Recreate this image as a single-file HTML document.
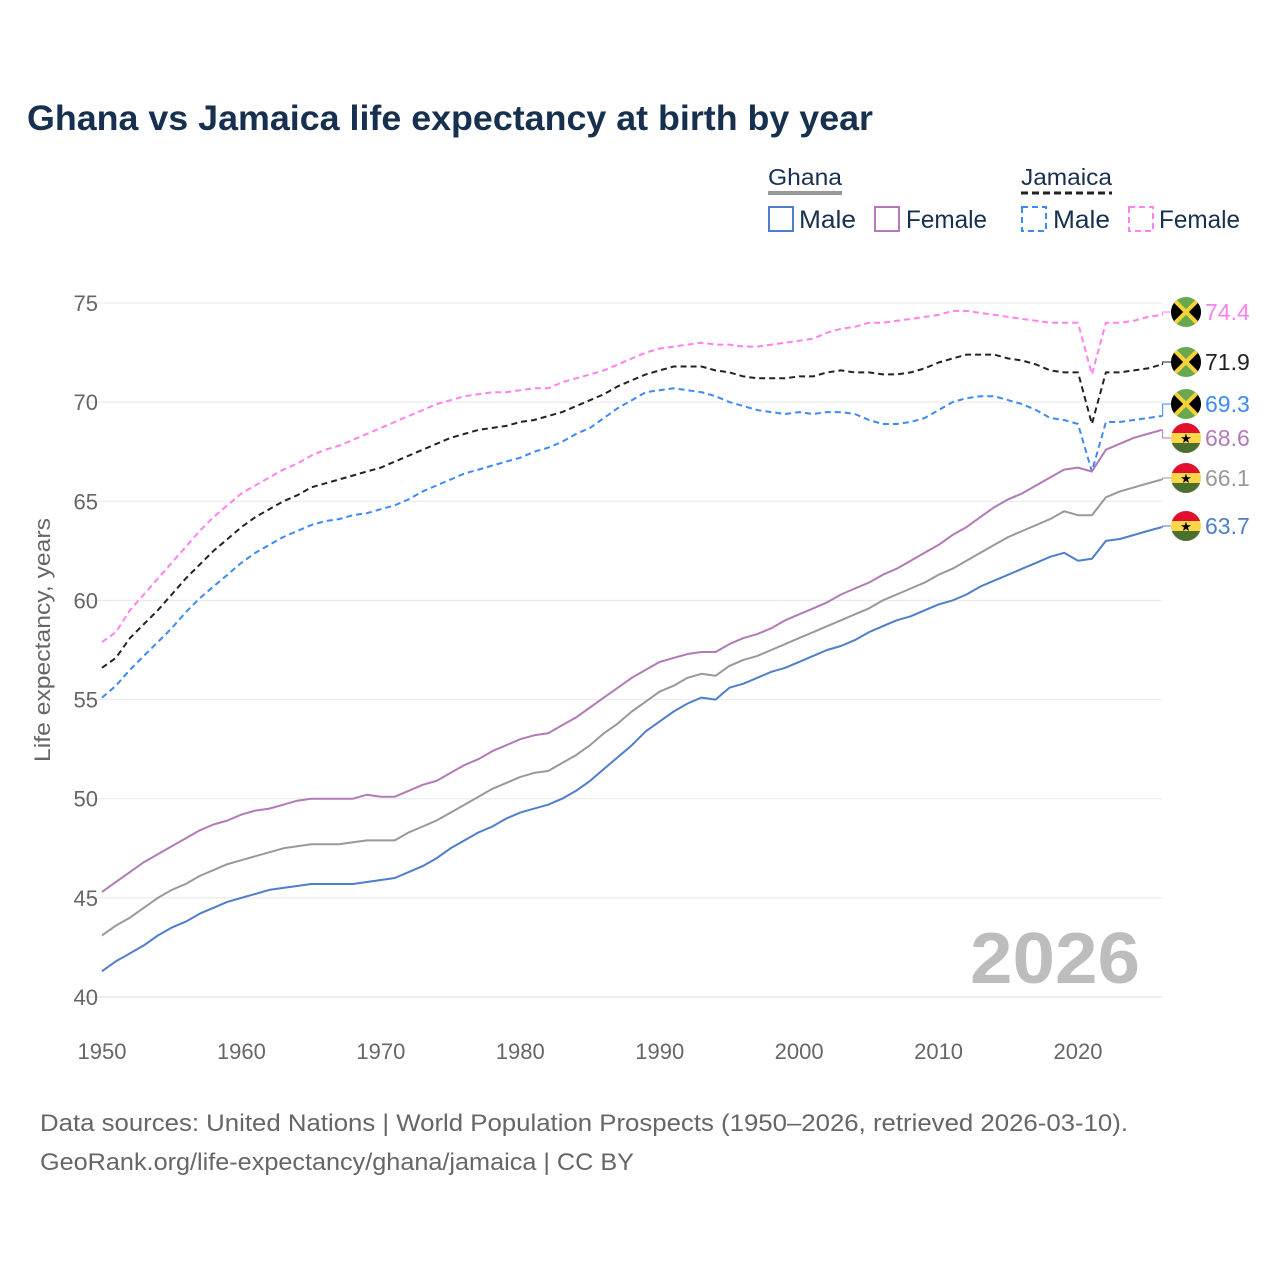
<!DOCTYPE html>
<html><head><meta charset="utf-8"><style>
body{margin:0;background:#fff;font-family:"Liberation Sans",sans-serif}
svg text{font-family:"Liberation Sans",sans-serif}
</style></head><body>
<svg id="chart" width="1280" height="1280" viewBox="0 0 1280 1280">
<text x="27" y="130" font-size="35" font-weight="bold" fill="#17304f" textLength="846" lengthAdjust="spacingAndGlyphs">Ghana vs Jamaica life expectancy at birth by year</text>
<g>
<text x="768" y="185" font-size="23" fill="#17304f" textLength="74" lengthAdjust="spacingAndGlyphs">Ghana</text>
<line x1="768" y1="193" x2="842" y2="193" stroke="#999" stroke-width="4"/>
<text x="1021" y="185" font-size="23" fill="#17304f" textLength="91" lengthAdjust="spacingAndGlyphs">Jamaica</text>
<line x1="1021" y1="193" x2="1112" y2="193" stroke="#222" stroke-width="3" stroke-dasharray="7,4"/>
<g><rect x="769" y="207" width="24" height="24" fill="none" stroke="#4f7ecb" stroke-width="2"/><text x="799" y="228" font-size="25" fill="#17304f" textLength="57" lengthAdjust="spacingAndGlyphs">Male</text></g>
<g><rect x="875" y="207" width="24" height="24" fill="none" stroke="#b27ab7" stroke-width="2"/><text x="906" y="228" font-size="25" fill="#17304f" textLength="81" lengthAdjust="spacingAndGlyphs">Female</text></g>
<g><rect x="1022" y="207" width="24" height="24" fill="none" stroke="#3b8af5" stroke-width="2" stroke-dasharray="6,4"/><text x="1053" y="228" font-size="25" fill="#17304f" textLength="57" lengthAdjust="spacingAndGlyphs">Male</text></g>
<g><rect x="1129" y="207" width="24" height="24" fill="none" stroke="#ff80f0" stroke-width="2" stroke-dasharray="6,4"/><text x="1159" y="228" font-size="25" fill="#17304f" textLength="81" lengthAdjust="spacingAndGlyphs">Female</text></g>
</g>
<g id="grid"></g><g id="axes"></g><g id="lines"></g><g id="labels"></g>
<text x="970" y="983" font-size="72" font-weight="bold" fill="#bdbdbd" textLength="170" lengthAdjust="spacingAndGlyphs">2026</text>
<text transform="translate(50,640) rotate(-90)" font-size="22" fill="#666" text-anchor="middle" textLength="244" lengthAdjust="spacingAndGlyphs">Life expectancy, years</text>
<text x="40" y="1131" font-size="24" fill="#666" textLength="1088" lengthAdjust="spacingAndGlyphs">Data sources: United Nations | World Population Prospects (1950–2026, retrieved 2026-03-10).</text>
<text x="40" y="1170" font-size="24" fill="#666" textLength="594" lengthAdjust="spacingAndGlyphs">GeoRank.org/life-expectancy/ghana/jamaica | CC BY</text>
</svg>
<script>
const years=[];for(let y=1950;y<=2026;y++)years.push(y);
const yTicks=[40,45,50,55,60,65,70,75];
const xTicks=[1950,1960,1970,1980,1990,2000,2010,2020];
const jamFemale=[57.9,58.4,59.5,60.3,61.1,61.9,62.7,63.5,64.2,64.8,65.4,65.8,66.2,66.6,66.9,67.3,67.6,67.8,68.1,68.4,68.7,69.0,69.3,69.6,69.9,70.1,70.3,70.4,70.5,70.5,70.6,70.7,70.7,71.0,71.2,71.4,71.6,71.9,72.2,72.5,72.7,72.8,72.9,73.0,72.9,72.9,72.8,72.8,72.9,73.0,73.1,73.2,73.5,73.7,73.8,74.0,74.0,74.1,74.2,74.3,74.4,74.6,74.6,74.5,74.4,74.3,74.2,74.1,74.0,74.0,74.0,71.4,74.0,74.0,74.1,74.3,74.4];
const jamTotal=[56.6,57.1,58.1,58.8,59.5,60.3,61.1,61.8,62.5,63.1,63.7,64.2,64.6,65.0,65.3,65.7,65.9,66.1,66.3,66.5,66.7,67.0,67.3,67.6,67.9,68.2,68.4,68.6,68.7,68.8,69.0,69.1,69.3,69.5,69.8,70.1,70.4,70.8,71.1,71.4,71.6,71.8,71.8,71.8,71.6,71.5,71.3,71.2,71.2,71.2,71.3,71.3,71.5,71.6,71.5,71.5,71.4,71.4,71.5,71.7,72.0,72.2,72.4,72.4,72.4,72.2,72.1,71.9,71.6,71.5,71.5,68.9,71.5,71.5,71.6,71.7,71.9];
const jamMale=[55.1,55.7,56.5,57.2,57.9,58.6,59.4,60.1,60.7,61.3,61.9,62.4,62.8,63.2,63.5,63.8,64.0,64.1,64.3,64.4,64.6,64.8,65.1,65.5,65.8,66.1,66.4,66.6,66.8,67.0,67.2,67.5,67.7,68.0,68.4,68.7,69.2,69.7,70.1,70.5,70.6,70.7,70.6,70.5,70.3,70.0,69.8,69.6,69.5,69.4,69.5,69.4,69.5,69.5,69.4,69.1,68.9,68.9,69.0,69.2,69.6,70.0,70.2,70.3,70.3,70.1,69.9,69.6,69.2,69.1,68.9,66.5,69.0,69.0,69.1,69.2,69.3];
const ghaFemale=[45.3,45.8,46.3,46.8,47.2,47.6,48.0,48.4,48.7,48.9,49.2,49.4,49.5,49.7,49.9,50.0,50.0,50.0,50.0,50.2,50.1,50.1,50.4,50.7,50.9,51.3,51.7,52.0,52.4,52.7,53.0,53.2,53.3,53.7,54.1,54.6,55.1,55.6,56.1,56.5,56.9,57.1,57.3,57.4,57.4,57.8,58.1,58.3,58.6,59.0,59.3,59.6,59.9,60.3,60.6,60.9,61.3,61.6,62.0,62.4,62.8,63.3,63.7,64.2,64.7,65.1,65.4,65.8,66.2,66.6,66.7,66.5,67.6,67.9,68.2,68.4,68.6];
const ghaTotal=[43.1,43.6,44.0,44.5,45.0,45.4,45.7,46.1,46.4,46.7,46.9,47.1,47.3,47.5,47.6,47.7,47.7,47.7,47.8,47.9,47.9,47.9,48.3,48.6,48.9,49.3,49.7,50.1,50.5,50.8,51.1,51.3,51.4,51.8,52.2,52.7,53.3,53.8,54.4,54.9,55.4,55.7,56.1,56.3,56.2,56.7,57.0,57.2,57.5,57.8,58.1,58.4,58.7,59.0,59.3,59.6,60.0,60.3,60.6,60.9,61.3,61.6,62.0,62.4,62.8,63.2,63.5,63.8,64.1,64.5,64.3,64.3,65.2,65.5,65.7,65.9,66.1];
const ghaMale=[41.3,41.8,42.2,42.6,43.1,43.5,43.8,44.2,44.5,44.8,45.0,45.2,45.4,45.5,45.6,45.7,45.7,45.7,45.7,45.8,45.9,46.0,46.3,46.6,47.0,47.5,47.9,48.3,48.6,49.0,49.3,49.5,49.7,50.0,50.4,50.9,51.5,52.1,52.7,53.4,53.9,54.4,54.8,55.1,55.0,55.6,55.8,56.1,56.4,56.6,56.9,57.2,57.5,57.7,58.0,58.4,58.7,59.0,59.2,59.5,59.8,60.0,60.3,60.7,61.0,61.3,61.6,61.9,62.2,62.4,62.0,62.1,63.0,63.1,63.3,63.5,63.7];
const X=v=>102+(v-1950)*(976/70);
const Y=v=>997-(v-40)*(694/35);
const NS='http://www.w3.org/2000/svg';
function mk(t,a,p){const e=document.createElementNS(NS,t);for(const k in a)e.setAttribute(k,a[k]);p.appendChild(e);return e;}
const grid=document.getElementById('grid'),axes=document.getElementById('axes'),lines=document.getElementById('lines'),labels=document.getElementById('labels');
yTicks.forEach(t=>{
 const l=mk('line',{x1:80,x2:1162,y1:Y(t),y2:Y(t),stroke:t===40?'#ddd':'#e8e8e8','stroke-width':1},grid);
 
 
 const tx=mk('text',{x:98,y:Y(t)+8,'font-size':22,fill:'#666','text-anchor':'end'},axes);tx.textContent=t;
 
 
});
xTicks.forEach(t=>{
 const tx=mk('text',{x:X(t),y:1059,'font-size':22,fill:'#666','text-anchor':'middle'},axes);tx.textContent=t;
 
 
});
const series=[
 {d:jamFemale,c:'#ff80f0',dash:'6,4',n:'jamaica-female',ly:312,flag:'jm'},
 {d:jamTotal,c:'#222',dash:'6,4',n:'jamaica-total',ly:362,flag:'jm'},
 {d:jamMale,c:'#3b8af5',dash:'6,4',n:'jamaica-male',ly:404,flag:'jm'},
 {d:ghaFemale,c:'#b27ab7',dash:'',n:'ghana-female',ly:438,flag:'gh'},
 {d:ghaTotal,c:'#999',dash:'',n:'ghana-total',ly:478,flag:'gh'},
 {d:ghaMale,c:'#4f7ecb',dash:'',n:'ghana-male',ly:526,flag:'gh'}
];
series.forEach(s=>{
 const pts=s.d.map((v,i)=>X(years[i]).toFixed(1)+','+Y(v).toFixed(1)).join(' ');
 const pl=mk('polyline',{points:pts,fill:'none',stroke:s.c,'stroke-width':2,'stroke-dasharray':s.dash,'stroke-linejoin':'round'},lines);
 
 
 const last=s.d[s.d.length-1],ex=X(2026),ey=Y(last);
 mk('polyline',{points:`${ex},${ey} ${ex+1},${ey} ${ex+1},${s.ly} ${1172},${s.ly}`,fill:'none',stroke:s.c,'stroke-width':1},labels);
 const g=mk('g',{},labels);
 
 
 const cx=1186,cy=s.ly,r=15;
 const cid='c'+s.n;mk('clipPath',{id:cid},g).appendChild(document.createElementNS(NS,'circle'));
 const cc=g.querySelector('clipPath circle');cc.setAttribute('cx',cx);cc.setAttribute('cy',cy);cc.setAttribute('r',r);
 const fg=mk('g',{'clip-path':`url(#${cid})`},g);
 if(s.flag==='jm'){
  mk('rect',{x:cx-r,y:cy-r,width:2*r,height:2*r,fill:'#6aa84f'},fg);
  mk('polygon',{points:`${cx-r},${cy-r} ${cx},${cy} ${cx-r},${cy+r}`,fill:'#000'},fg);
  mk('polygon',{points:`${cx+r},${cy-r} ${cx},${cy} ${cx+r},${cy+r}`,fill:'#000'},fg);
  mk('line',{x1:cx-r,y1:cy-r,x2:cx+r,y2:cy+r,stroke:'#f5d23a','stroke-width':4},fg);
  mk('line',{x1:cx-r,y1:cy+r,x2:cx+r,y2:cy-r,stroke:'#f5d23a','stroke-width':4},fg);
 }else{
  mk('rect',{x:cx-r,y:cy-r,width:2*r,height:10,fill:'#e0102d'},fg);
  mk('rect',{x:cx-r,y:cy-5,width:2*r,height:10,fill:'#fbd54a'},fg);
  mk('rect',{x:cx-r,y:cy+5,width:2*r,height:10,fill:'#4c6e2e'},fg);
  const st=mk('text',{x:cx,y:cy+5,'font-size':13,'text-anchor':'middle',fill:'#000'},fg);st.textContent='★';
 }
 const t=mk('text',{x:1205,y:s.ly+8,'font-size':23,fill:s.c},labels);t.textContent=last.toFixed(1);
 
 
});
</script>
</body></html>
